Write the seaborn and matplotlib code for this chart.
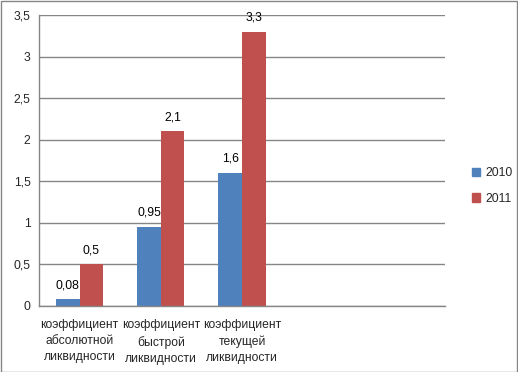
import matplotlib
matplotlib.use("Agg")
import matplotlib.pyplot as plt
import seaborn as sns
import pandas as pd
from matplotlib.patches import Rectangle

categories = ["коэффициент\nабсолютной\nликвидности",
              "коэффициент\nбыстрой\nликвидности",
              "коэффициент\nтекущей\nликвидности"]
years = ["2010", "2011"]
values_2010 = [0.08, 0.95, 1.6]
values_2011 = [0.5, 2.1, 3.3]
yticks = [0, 0.5, 1, 1.5, 2, 2.5, 3, 3.5]

df = pd.DataFrame({
    "cat": categories * 2,
    "year": [years[0]] * 3 + [years[1]] * 3,
    "value": values_2010 + values_2011,
})

sns.set_style("white")
plt.rcParams["font.family"] = ["Liberation Sans", "DejaVu Sans"]

fig = plt.figure(figsize=(5.18, 3.72), dpi=100)
ax = fig.add_axes([39 / 518, 66 / 372, 406 / 518, 291 / 372])

palette = {"2010": "#4F81BD", "2011": "#C0504D"}
sns.barplot(data=df, x="cat", y="value", hue="year", palette=palette,
            width=0.58, gap=0, saturation=1, linewidth=0, ax=ax, legend=False)

# value labels with comma decimals
for cont in ax.containers:
    for bar in cont:
        h = bar.get_height()
        txt = f"{h:g}".replace(".", ",")
        ax.annotate(txt, (bar.get_x() + bar.get_width() / 2, h),
                    xytext=(0, 6), textcoords="offset points",
                    ha="center", va="bottom", fontsize=8.7, color="#000000")

ax.set_xlim(-0.5, 4.5)
ax.set_ylim(0, 3.5)
ax.set_yticks(yticks)
ax.set_yticklabels([f"{t:g}".replace(".", ",") for t in yticks], fontsize=8.7)
ax.yaxis.grid(True, color="#868686", linewidth=1)
ax.set_axisbelow(True)

ax.set_xticks([-0.5, 0.5, 1.5, 2.5, 4.5])
ax.set_xticklabels([])
ax.tick_params(axis="x", direction="out", length=4, color="#868686", width=1)
ax.tick_params(axis="y", direction="out", length=3, color="#868686", width=1, pad=3)
for i, c in enumerate(categories):
    ax.text(i, -0.045, c, transform=ax.get_xaxis_transform(), ha="center", va="top",
            fontsize=8.7, linespacing=1.45)

for s in ["top", "right"]:
    ax.spines[s].set_visible(False)
for s in ["left", "bottom"]:
    ax.spines[s].set_color("#868686")
    ax.spines[s].set_linewidth(1)
ax.set_xlabel("")
ax.set_ylabel("")

handles = [Rectangle((0, 0), 1, 1, color=palette[y]) for y in years]
fig.legend(handles, years, loc="center left", bbox_to_anchor=(461 / 518, 1 - 186 / 372),
           frameon=False, fontsize=8.7, handlelength=0.7, handleheight=0.7,
           handletextpad=0.4, labelspacing=1.1)

fig.patches.append(Rectangle((0.5 / 518, 0.5 / 372), 516.5 / 518, 370.5 / 372,
                             transform=fig.transFigure, fill=False,
                             edgecolor="#868686", linewidth=1))

fig.savefig("out.png", dpi=100)
